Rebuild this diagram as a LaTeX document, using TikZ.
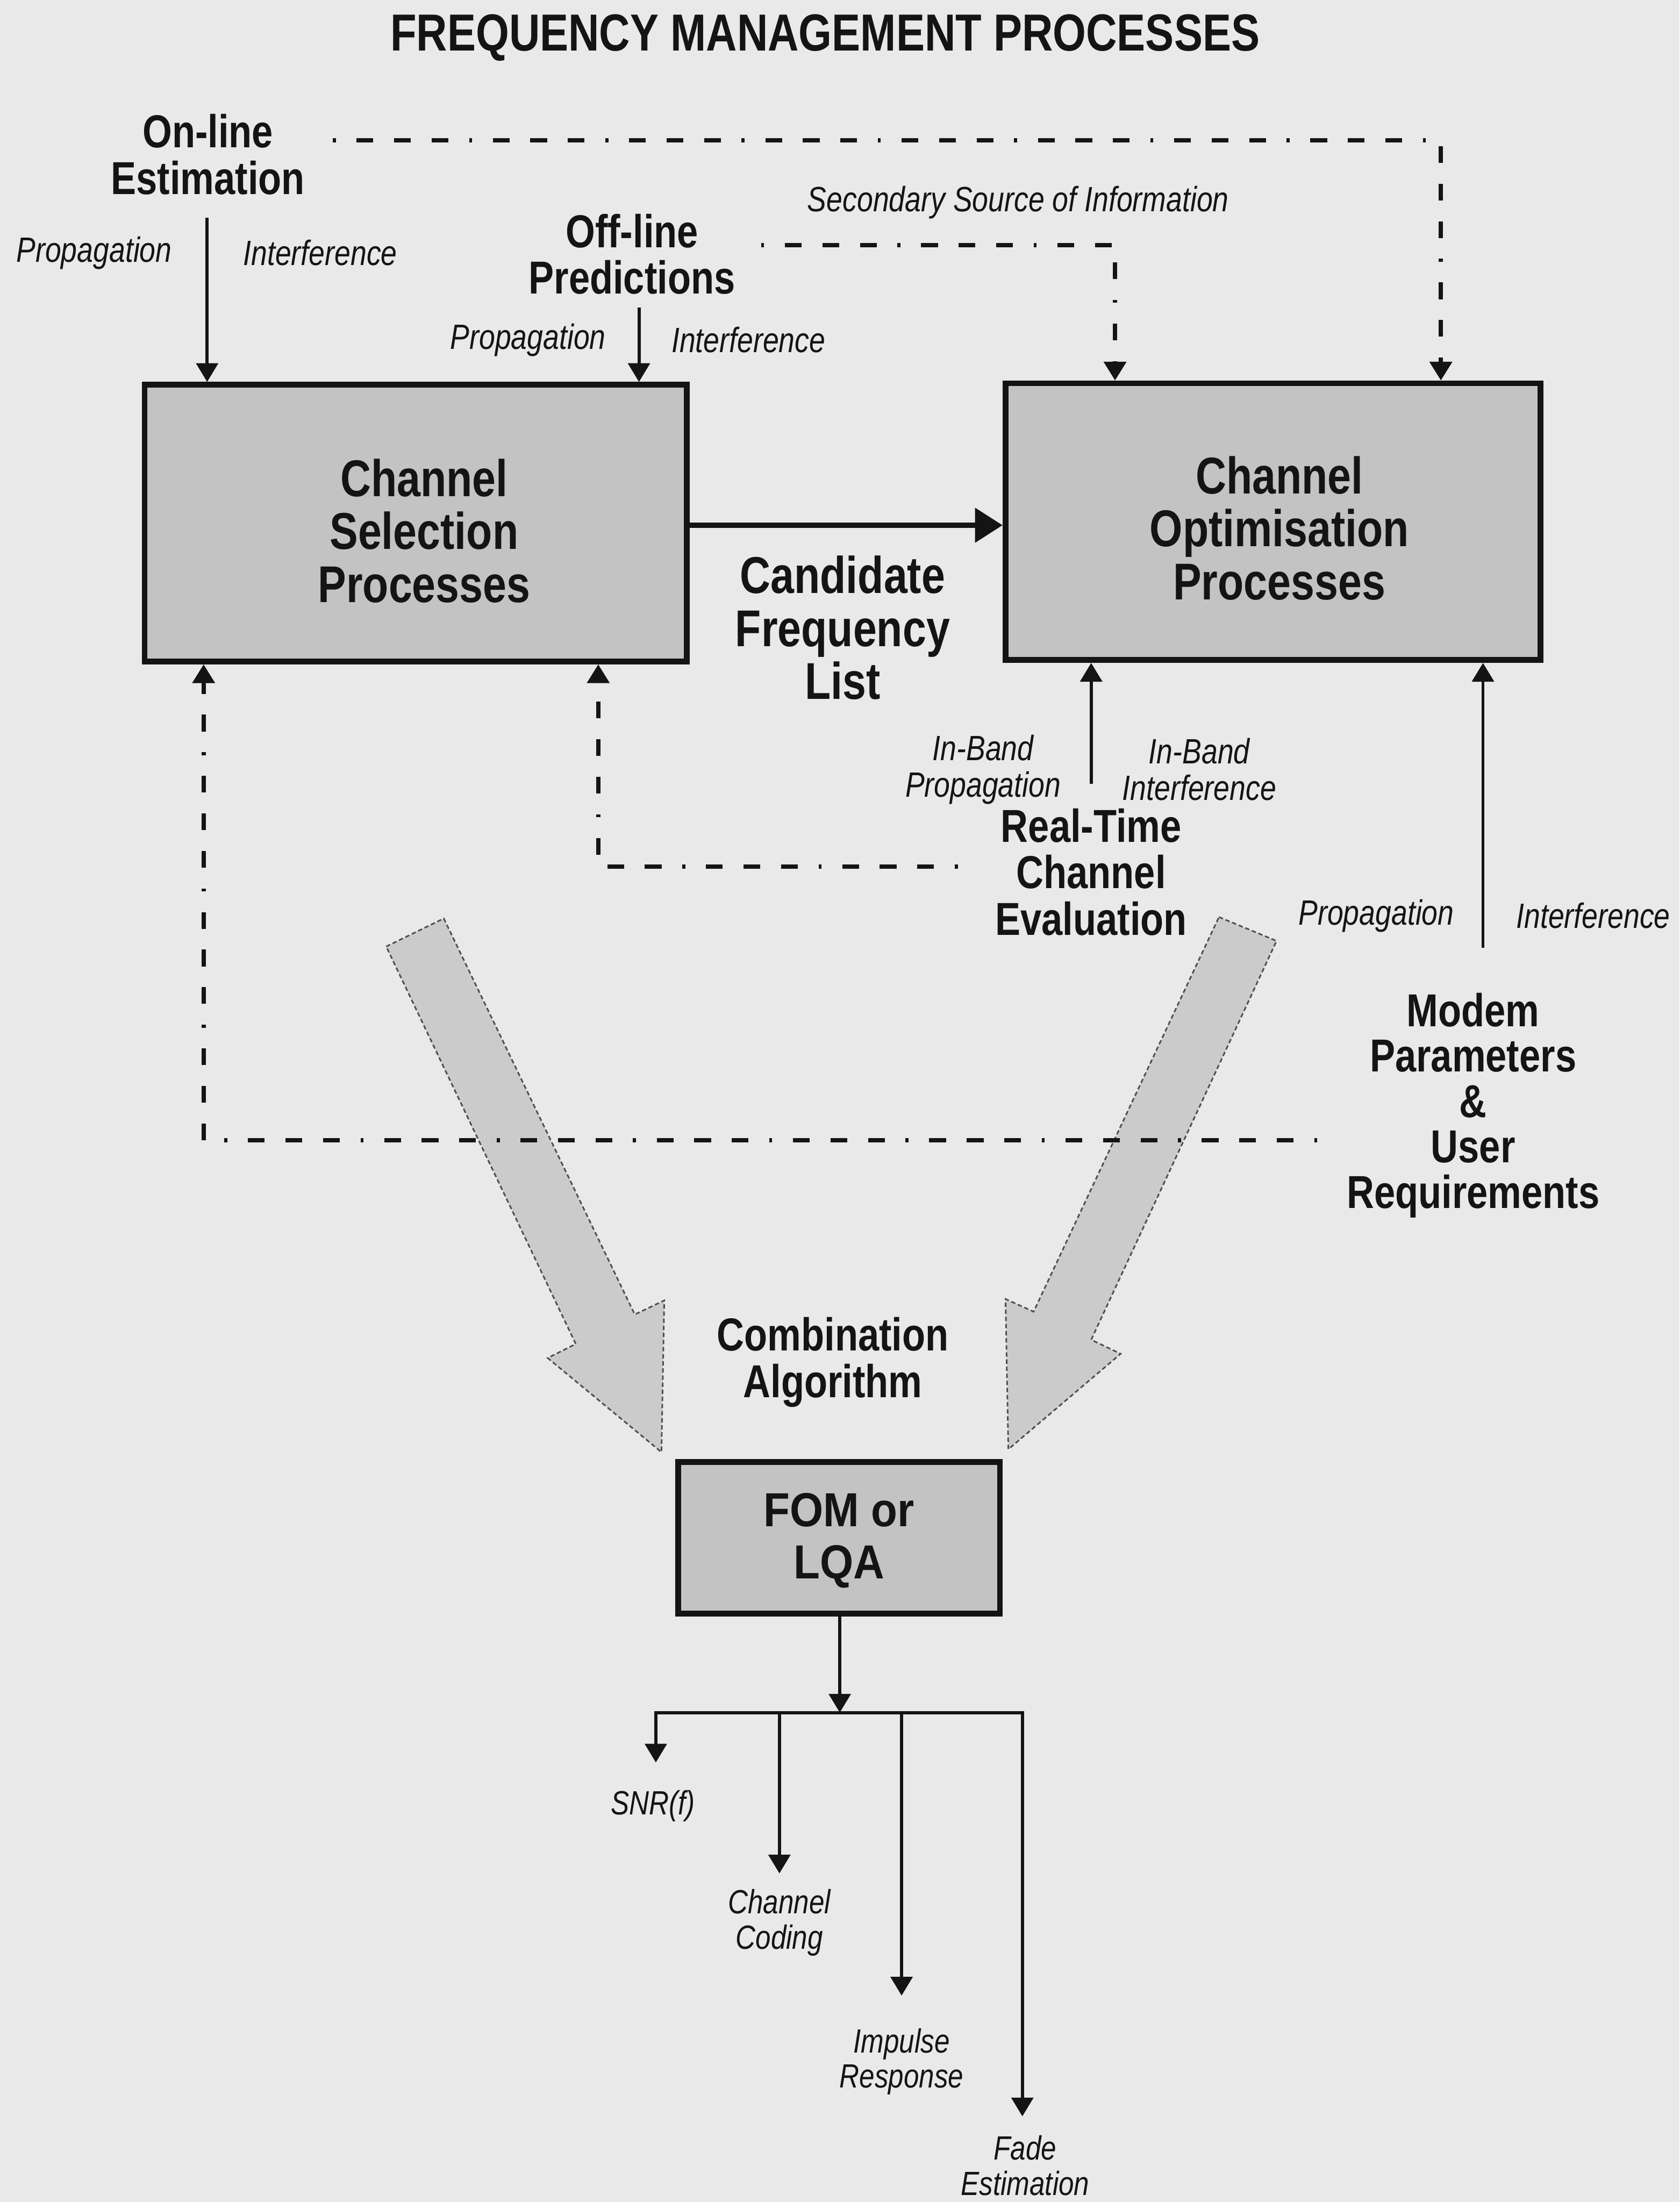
\documentclass[tikz,border=0pt]{standalone}
\usepackage{fontspec}
\newfontfamily\narrowfont[FakeStretch=0.82]{Liberation Sans}
\newfontfamily\midfont[FakeStretch=0.9]{Liberation Sans}
\usetikzlibrary{arrows.meta,fit}
\definecolor{bgpage}{HTML}{E9E9E9}
\definecolor{boxfill}{HTML}{C3C3C3}
\definecolor{arrowfill}{HTML}{CBCBCB}
\definecolor{ink}{HTML}{141414}
\newcommand\fTitle{\narrowfont\bfseries\fontsize{26.4}{28}\selectfont}
\newcommand\fBig{\narrowfont\bfseries\fontsize{26.2}{26.8}\selectfont}
\newcommand\fMed{\narrowfont\bfseries\fontsize{23.4}{23.6}\selectfont}
\newcommand\fModem{\narrowfont\bfseries\fontsize{23.4}{23}\selectfont}
\newcommand\fLab{\narrowfont\itshape\fontsize{17.8}{18.5}\selectfont}
\newcommand\fOut{\narrowfont\itshape\fontsize{17}{17.8}\selectfont}
\newcommand\fFom{\midfont\bfseries\fontsize{24.2}{26.3}\selectfont}
\tikzset{
  txt/.style={inner sep=0pt, align=center, text=ink},
  procbox/.style={draw=ink, line width=2.9pt, fill=boxfill, inner sep=0pt},
  thinline/.style={draw=ink, line width=1.6pt},
  thinarrow/.style={thinline, -{Triangle[width=11pt,length=9.5pt]}},
  dashdot/.style={draw=ink, line width=2.3pt, dash pattern=on 1.5pt off 10.5pt on 8.5pt off 10.5pt on 8.5pt off 10.5pt on 8.5pt off 10.5pt},
  dasharrow/.style={dashdot, -{Triangle[width=11pt,length=9.5pt]}},
  mainarrow/.style={draw=ink, line width=2.9pt, -{Triangle[width=17pt,length=14pt]}},
  bigarrow/.style={fill=arrowfill, draw=ink!75, line width=0.8pt, dash pattern=on 2.2pt off 1.4pt, line join=miter},
}
\begin{document}
\begin{tikzpicture}[x=0.025cm,y=-0.025cm]
\useasboundingbox (0,0) rectangle (1196,1568);
\fill[bgpage] (0,0) rectangle (1196,1568);

% boxes
\node[procbox, fit={(103,274)(489,471)}] (lbox) {};
\node[procbox, fit={(716,273)(1097,470)}] (rbox) {};
\node[procbox, fit={(483,1041)(712,1149)}] (fom) {};

% big shaded arrows
\draw[bigarrow] (275,674) -- (316,654) -- (452,936) -- (473,926) -- (471,1034) -- (390,967) -- (410,957) -- cycle;
\draw[bigarrow] (868,653) -- (909,670) -- (777,954) -- (798,964) -- (718,1032) -- (716,925) -- (736,934) -- cycle;

% texts
\node[txt,font=\fTitle] (title) at (587.5,27) {FREQUENCY MANAGEMENT PROCESSES};
\node[txt,font=\fMed] (online) at (148,110) {On-line\\Estimation};
\node[txt,font=\fLab] (onprop) at (67,180) {Propagation};
\node[txt,font=\fLab] (onintf) at (228,180) {Interference};
\node[txt,font=\fMed] (offline) at (450,181) {Off-line\\Predictions};
\node[txt,font=\fLab] (offprop) at (376,242) {Propagation};
\node[txt,font=\fLab] (offintf) at (533,242) {Interference};
\node[txt,font=\fLab] (secondary) at (725,144) {Secondary Source of Information};
\node[txt,font=\fBig] (lboxtxt) at (302,378) {Channel\\Selection\\Processes};
\node[txt,font=\fBig] (rboxtxt) at (911,376) {Channel\\Optimisation\\Processes};
\node[txt,font=\fBig] (cfl) at (600,447) {Candidate\\Frequency\\List};
\node[txt,font=\fLab] (ibprop) at (700,548) {In-Band\\Propagation};
\node[txt,font=\fLab] (ibintf) at (854,548) {In-Band\\Interference};
\node[txt,font=\fMed] (rtce) at (777,621) {Real-Time\\Channel\\Evaluation};
\node[txt,font=\fLab] (mdprop) at (980,652) {Propagation};
\node[txt,font=\fLab] (mdintf) at (1134.5,652) {Interference};
\node[txt,font=\fModem] (modem) at (1049,787) {Modem\\Parameters\\\&\\User\\Requirements};
\node[txt,font=\fMed] (combo) at (593,970) {Combination\\Algorithm};
\node[txt,font=\fFom] (fomtxt) at (597.5,1097) {FOM or\\LQA};
\node[txt,font=\fOut] (snr) at (465,1286) {SNR(f)};
\node[txt,font=\fOut] (coding) at (555,1369) {Channel\\Coding};
\node[txt,font=\fOut] (impulse) at (642,1468) {Impulse\\Response};
\node[txt,font=\fOut] (fade) at (730,1542) {Fade\\Estimation};

% dash-dot connectors
\coordinate (topstart) at (237,100);
\coordinate (topcorner) at (1026,100);
\draw[dasharrow] (topstart) -- (topcorner) -- (rbox.north -| topcorner);
\coordinate (offstart) at (542,174.5);
\coordinate (offcorner) at (794,174.5);
\draw[dasharrow] (offstart) -- (offcorner) -- (rbox.north -| offcorner);
\coordinate (rtstart) at (682,617);
\coordinate (rtcorner) at (426,617);
\draw[dasharrow] (rtstart) -- (rtcorner) -- (lbox.south -| rtcorner);
\coordinate (mdstart) at (938,812);
\coordinate (mdcorner) at (145,812);
\draw[dasharrow] (mdstart) -- (mdcorner) -- (lbox.south -| mdcorner);

% solid input arrows
\coordinate (onl) at (147.5,155);
\draw[thinarrow] (onl) -- (lbox.north -| onl);
\coordinate (offl) at (455,219);
\draw[thinarrow] (offl) -- (lbox.north -| offl);
\coordinate (rtc) at (777,558);
\draw[thinarrow] (rtc) -- (rbox.south -| rtc);
\coordinate (mdc) at (1056,675);
\draw[thinarrow] (mdc) -- (rbox.south -| mdc);
\coordinate (mainy) at (600,374);
\draw[mainarrow] (lbox.east |- mainy) -- (rbox.west |- mainy);

% output tree
\coordinate (split) at (598,1219.5);
\draw[thinarrow] (fom.south -| split) -- (split);
\coordinate (b1) at (467,1219.5);
\coordinate (b2) at (555,1219.5);
\coordinate (b3) at (642,1219.5);
\coordinate (b4) at (728,1219.5);
\draw[thinline, line cap=rect] (b1) -- (b4);
\draw[thinarrow] (b1) -- (467,1255);
\draw[thinarrow] (b2) -- (555,1334);
\draw[thinarrow] (b3) -- (642,1421);
\draw[thinarrow] (b4) -- (728,1507);
\end{tikzpicture}
\end{document}
